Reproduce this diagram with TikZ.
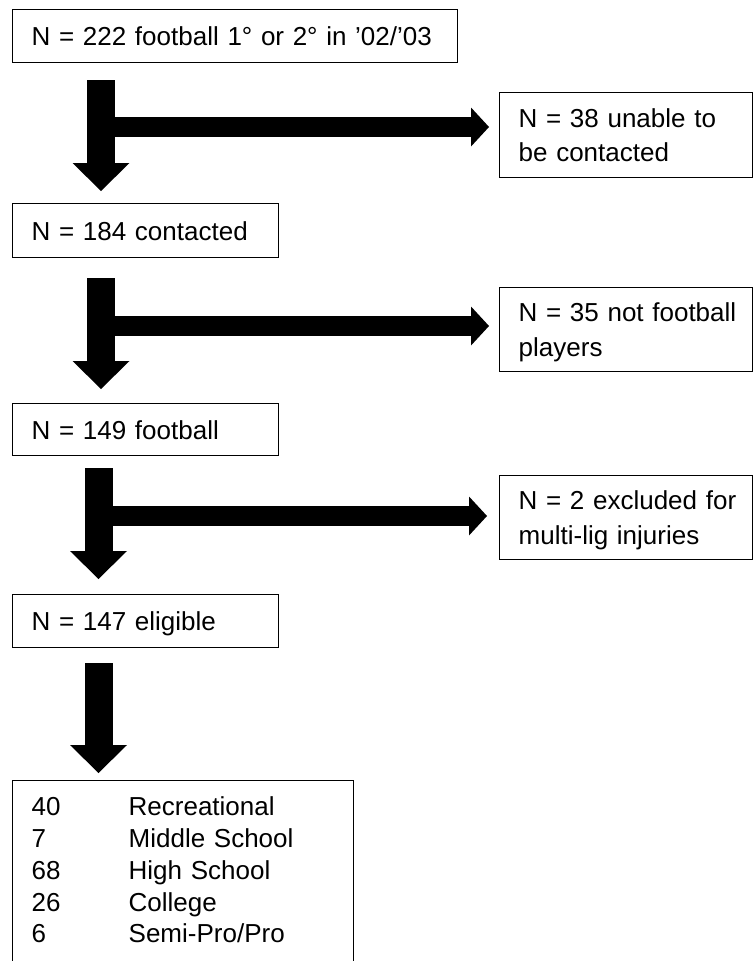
\documentclass[tikz,border=0pt]{standalone}
\usepackage{fontspec}
\setmainfont{Liberation Sans}
\usetikzlibrary{arrows.meta}
\begin{document}
\begin{tikzpicture}[x=1pt,y=-1pt,
  box/.style={draw=black, line width=1.4pt, anchor=north west, inner xsep=19pt,
    inner ysep=0pt, align=left, font=\fontsize{26}{34.5}\selectfont,
    text height=18.6pt, text depth=0pt},
  leftbox/.style={box, minimum width=266pt, text width=228pt},
  rightbox/.style={box, minimum width=253pt, minimum height=85pt, text width=215pt, text depth=34.5pt},
  varrow/.style={line width=28pt, -{Triangle[width=57pt,length=28pt,line width=0pt]}},
  harrow/.style={line width=20pt, -{Triangle[width=39pt,length=18pt,line width=0pt]}},
]
\useasboundingbox (0,0) rectangle (755,961);
\clip (0,0) rectangle (755,961);

% left column
\node[box, minimum width=445pt, minimum height=53pt, text width=407pt] (A) at (12,9)
  {N = 222 football 1° or 2° in ’02/’03};
\node[leftbox, minimum height=54pt] (B) at (12,203) {N = 184 contacted};
\node[leftbox, minimum height=52pt] (C) at (12,403) {N = 149 football};
\node[leftbox, minimum height=53pt] (D) at (12,594) {N = 147 eligible};
\node[box, minimum width=341pt, minimum height=205pt, text width=303pt,
      font=\fontsize{26}{31.8}\selectfont, text depth=153.6pt] (E) at (12,780)
  {\makebox[97pt][l]{40}Recreational\\
   \makebox[97pt][l]{7}Middle School\\
   \makebox[97pt][l]{68}High School\\
   \makebox[97pt][l]{26}College\\
   \makebox[97pt][l]{6}Semi-Pro/Pro};

% right column
\node[rightbox] (R1) at (499,92) {\mbox{N = 38 unable to}\\\mbox{be contacted}};
\node[rightbox, minimum height=84pt] (R2) at (499,287) {\mbox{N = 35 not football}\\\mbox{players}};
\node[rightbox, minimum height=84pt] (R3) at (499,475) {\mbox{N = 2 excluded for}\\\mbox{multi-lig injuries}};

% junction points of the T-shaped arrows
\coordinate (j1) at (101,127);
\coordinate (j2) at (101,326);
\coordinate (j3) at (98.5,516);

% horizontal arrows
\draw[harrow, shorten >=10pt] (j1) -- (j1 -| R1.west);
\draw[harrow, shorten >=10pt] (j2) -- (j2 -| R2.west);
\draw[harrow, shorten >=12pt] (j3) -- (j3 -| R3.west);

% vertical arrows
\draw[varrow, shorten <=17pt, shorten >=12pt] (A.south -| j1) -- (B.north -| j1);
\draw[varrow, shorten <=20pt, shorten >=14pt] (B.south -| j2) -- (C.north -| j2);
\draw[varrow, shorten <=12pt, shorten >=15pt] (C.south -| j3) -- (D.north -| j3);
\draw[varrow, shorten <=15pt, shorten >=7pt] (D.south -| j3) -- (E.north -| j3);
\end{tikzpicture}
\end{document}
